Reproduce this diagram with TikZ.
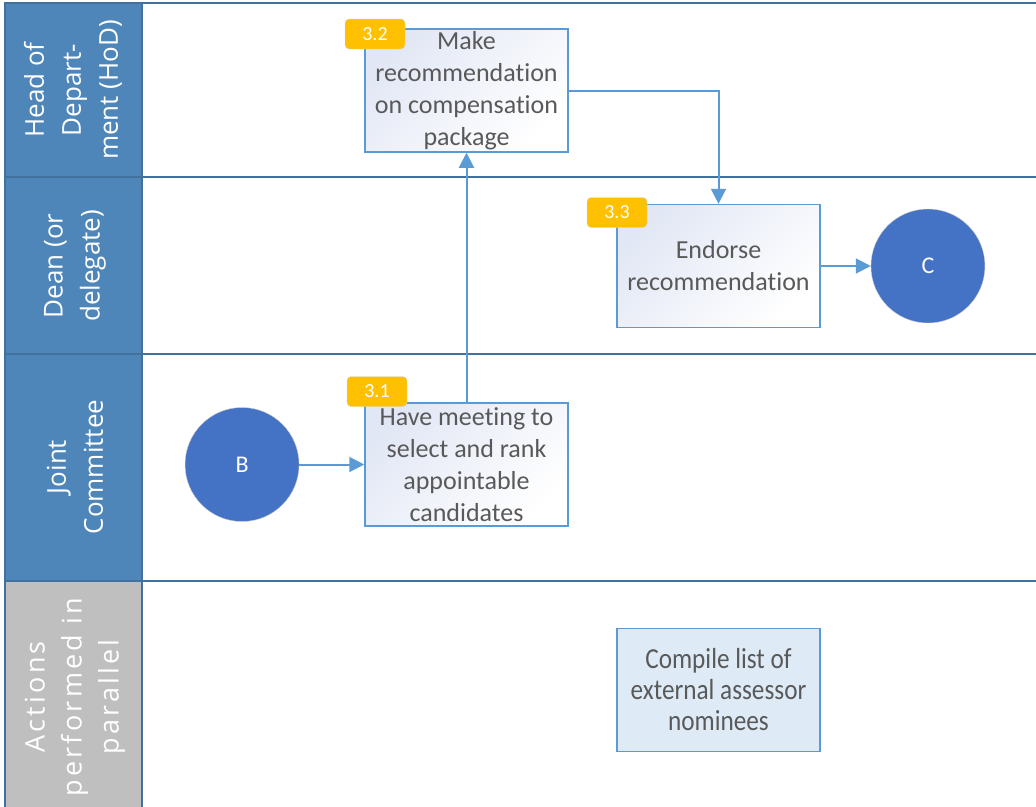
\documentclass[tikz,border=0pt]{standalone}
\usepackage{fontspec}
\setmainfont{Carlito}[Ligatures={NoCommon,NoContextual}]
\newfontfamily\headfont{Open Sans}
\newfontfamily\narrowfont{Carlito}[Ligatures={NoCommon,NoContextual}, FakeStretch=0.87]
\usetikzlibrary{positioning}
\usetikzlibrary{arrows.meta}
\definecolor{lanehead}{HTML}{4F86BA}
\definecolor{laneline}{HTML}{41719C}
\definecolor{flowblue}{HTML}{5B9BD5}
\definecolor{badgeamber}{HTML}{FFC000}
\definecolor{termblue}{HTML}{4472C4}
\definecolor{boxtext}{HTML}{595959}
\definecolor{parallelgray}{HTML}{BFBFBF}
\definecolor{parallelfill}{HTML}{DEEBF7}
\definecolor{boxtint}{HTML}{E2E7F5}
\tikzset{x=1pt, y=-1pt, % Pixel units, y runs downwards
      lane/.style={draw=laneline, line width=2pt},
      lanelabel/.style={ % Rotated text in the lane headers
      rotate=90, align=center, text=white,
      font=\headfont\fontsize{26}{37}\selectfont},
      task/.style={ % Process boxes
      draw=flowblue, line width=1.5pt, inner sep=2pt,
      minimum width=203pt, minimum height=123pt,
      align=center, text=boxtext,
      top color=boxtint, bottom color=white, shading angle=45,
      font=\fontsize{26}{32}\selectfont},
      badge/.style={ % Step numbers
      draw=black!15, fill=badgeamber, rounded corners=4pt,
      minimum width=60pt, minimum height=30pt, text=white,
      font=\fontsize{20}{20}\selectfont},
      connector/.style={ % Off-page connectors
      circle, draw=black!20, fill=termblue, minimum size=114pt,
      text=white, font=\fontsize{24}{24}\selectfont},
      flow/.style={ % Sequence arrows
      draw=flowblue, line width=2pt,
      -{Triangle[length=15pt,width=15pt]}}}
\begin{document}
\begin{tikzpicture}
      \useasboundingbox (0,0) rectangle (1036,806);
      % lanes
      \fill[lanehead] (5,3) rectangle (142,581);
      \fill[parallelgray] (5,581) rectangle (142,810);
      \draw[lane] (1040,3) -- (5,3) -- (5,810);
      \draw[lane] (142,3) -- (142,810);
      \draw[lane] (5,177) -- (1040,177);
      \draw[lane] (5,354) -- (1040,354);
      \draw[lane] (5,581) -- (1040,581);
      \node[lanelabel] (hod) at (73,90) {Head of\\Depart-\\ment (HoD)};
      \node[lanelabel] (dean) at (75,266) {Dean (or\\delegate)};
      \node[lanelabel] (jc) at (75,467) {Joint\\Committee};
      \node[lanelabel, font=\headfont\addfontfeature{LetterSpace=12}\fontsize{27}{37}\selectfont] (par) at (75,697) {Actions\\performed in\\parallel};
      % tasks
      \node[task] (t32) at (466.5,90.5) {Make\\recommendation\\on compensation\\package};
      \node[task] (t33) at (718.5,266) {Endorse\\recommendation};
      \node[task] (t31) at (466.5,464.5) {Have meeting to\\select and rank\\appointable\\candidates};
      \node[task, shading=none, top color=parallelfill, bottom color=parallelfill,
            font=\narrowfont\fontsize{29}{31}\selectfont] (cl) at (718.5,690) {Compile list of\\external assessor\\nominees};
      \node[badge] (n32) at (375,34) {3.2};
      \node[badge] (n33) at (617,212.5) {3.3};
      \node[badge] (n31) at (377,391.5) {3.1};
      \node[connector, left=65pt of t31] (b) {B};
      \node[connector, right=50pt of t33] (c) {C};
      % arrows
      \draw[flow] (b) -- (t31);
      \draw[flow] (t31) -- (t32);
      \draw[flow] (t32.east) -| (t33.north);
      \draw[flow] (t33) -- (c);
\end{tikzpicture}
\end{document}
